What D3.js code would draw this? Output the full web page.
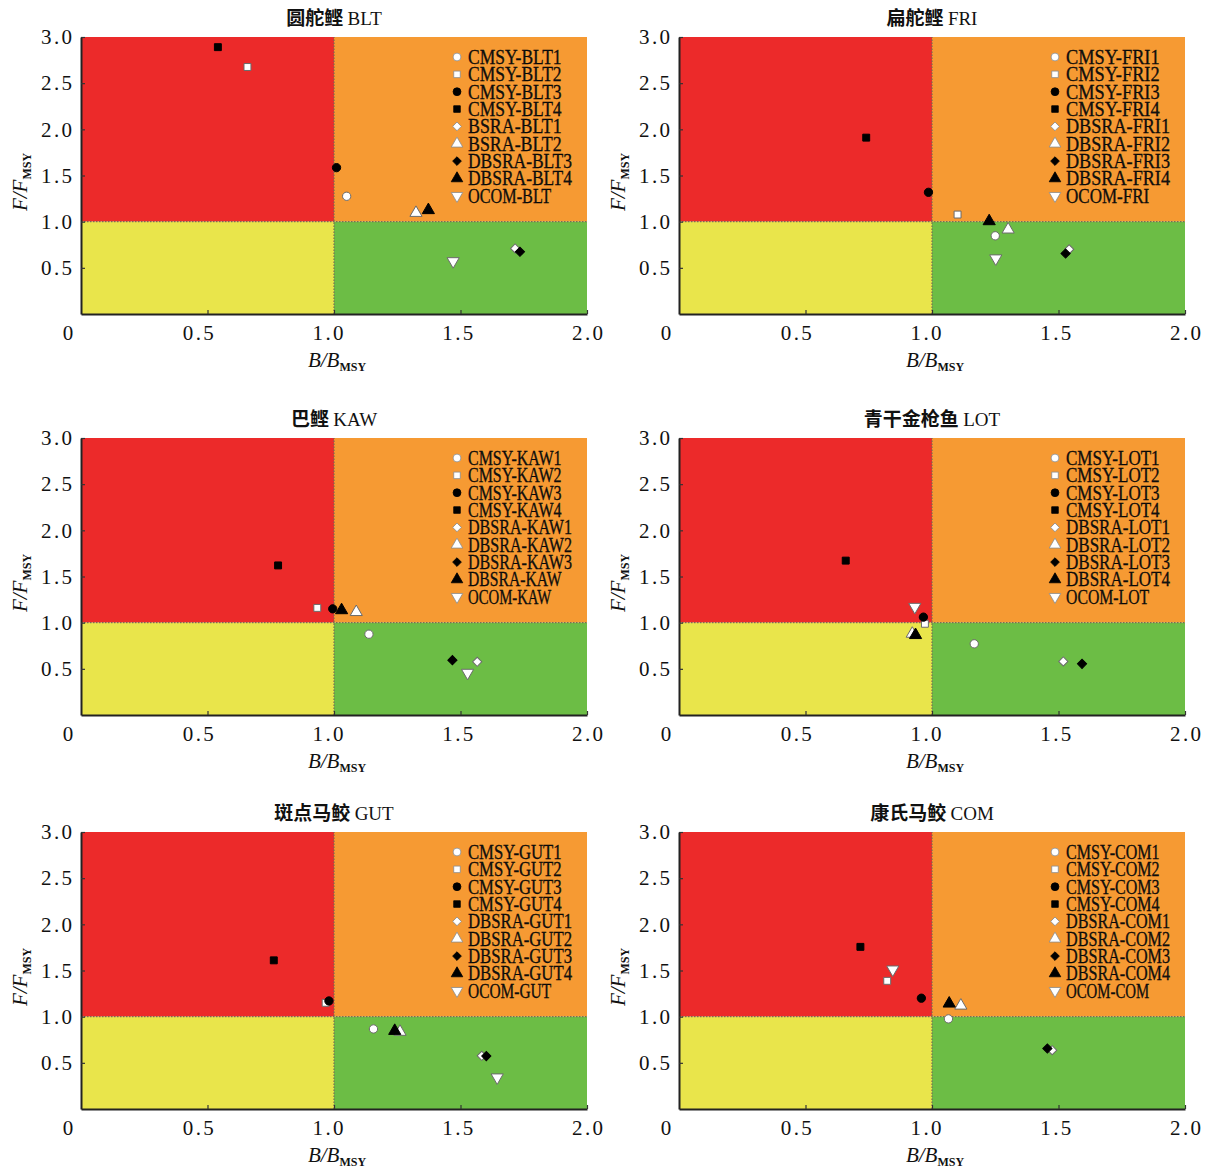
<!DOCTYPE html>
<html lang="zh">
<head>
<meta charset="UTF-8">
<title>Kobe plots</title>
<script src="https://cdn.jsdelivr.net/npm/d3@7"></script>
<style>
  body { margin: 0; background: #fff; }
  svg text { font-family: "Liberation Serif", "Noto Sans CJK SC", serif; fill: #111; }
</style>
</head>
<body>
<div id="chart"></div>
<script>
// --- data ---
const titles = ["圆舵鲣 BLT", "扁舵鲣 FRI", "巴鲣 KAW", "青干金枪鱼 LOT", "斑点马鲛 GUT", "康氏马鲛 COM"];

const bltLabels = ["CMSY-BLT1", "CMSY-BLT2", "CMSY-BLT3", "CMSY-BLT4", "BSRA-BLT1", "BSRA-BLT2", "DBSRA-BLT3", "DBSRA-BLT4", "OCOM-BLT"];
const bltB = [1.05, 0.658, 1.01, 0.541, 1.716, 1.324, 1.735, 1.373, 1.471];
const bltF = [1.275, 2.675, 1.585, 2.89, 0.71, 1.095, 0.674, 1.125, 0.572];

const friLabels = ["CMSY-FRI1", "CMSY-FRI2", "CMSY-FRI3", "CMSY-FRI4", "DBSRA-FRI1", "DBSRA-FRI2", "DBSRA-FRI3", "DBSRA-FRI4", "OCOM-FRI"];
const friB = [1.25, 1.101, 0.986, 0.74, 1.542, 1.301, 1.528, 1.226, 1.252];
const friF = [0.847, 1.077, 1.318, 1.91, 0.70, 0.915, 0.655, 1.005, 0.602];

const kawLabels = ["CMSY-KAW1", "CMSY-KAW2", "CMSY-KAW3", "CMSY-KAW4", "DBSRA-KAW1", "DBSRA-KAW2", "DBSRA-KAW3", "DBSRA-KAW", "OCOM-KAW"];
const kawB = [1.138, 0.934, 0.995, 0.779, 1.566, 1.088, 1.468, 1.03, 1.528];
const kawF = [0.875, 1.16, 1.15, 1.62, 0.576, 1.115, 0.594, 1.135, 0.457];

const lotLabels = ["CMSY-LOT1", "CMSY-LOT2", "CMSY-LOT3", "CMSY-LOT4", "DBSRA-LOT1", "DBSRA-LOT2", "DBSRA-LOT3", "DBSRA-LOT4", "OCOM-LOT"];
const lotB = [1.167, 0.972, 0.966, 0.659, 1.519, 0.922, 1.593, 0.935, 0.932];
const lotF = [0.771, 0.988, 1.06, 1.672, 0.58, 0.88, 0.554, 0.866, 1.171];

const gutLabels = ["CMSY-GUT1", "CMSY-GUT2", "CMSY-GUT3", "CMSY-GUT4", "DBSRA-GUT1", "DBSRA-GUT2", "DBSRA-GUT3", "DBSRA-GUT4", "OCOM-GUT"];
const gutB = [1.156, 0.967, 0.98, 0.762, 1.584, 1.261, 1.602, 1.24, 1.645];
const gutF = [0.867, 1.15, 1.17, 1.61, 0.576, 0.836, 0.573, 0.846, 0.342];

const comLabels = ["CMSY-COM1", "CMSY-COM2", "CMSY-COM3", "CMSY-COM4", "DBSRA-COM1", "DBSRA-COM2", "DBSRA-COM3", "DBSRA-COM4", "OCOM-COM"];
const comB = [1.065, 0.823, 0.958, 0.717, 1.475, 1.114, 1.456, 1.068, 0.845];
const comF = [0.976, 1.388, 1.2, 1.756, 0.637, 1.12, 0.655, 1.142, 1.511];

const xTicks = [0.5, 1.0, 1.5, 2.0];
const yTicks = [0.5, 1.0, 1.5, 2.0, 2.5, 3.0];

// marker order matches the legend order in every panel
const markerShapes = ["circle", "square", "circle", "square", "diamond", "triangle", "diamond", "triangle", "triangleDown"];
const markerFilled = [false, false, true, true, false, false, true, true, false];

// quadrant zones: [x0, x1, y0, y1, colour]
const zones = [
  [0, 1, 1, 3, "#ec2a2a"],
  [1, 2, 1, 3, "#f69a33"],
  [0, 1, 0, 1, "#e9e54b"],
  [1, 2, 0, 1, "#6cbd45"]
];

const panels = [
  { title: titles[0], labels: bltLabels, b: bltB, f: bltF },
  { title: titles[1], labels: friLabels, b: friB, f: friF },
  { title: titles[2], labels: kawLabels, b: kawB, f: kawF },
  { title: titles[3], labels: lotLabels, b: lotB, f: lotF },
  { title: titles[4], labels: gutLabels, b: gutB, f: gutF },
  { title: titles[5], labels: comLabels, b: comB, f: comF }
];

// --- layout ---
const W = 1208, H = 1171;
const colLeft = [81, 679];
const rowTop = [37, 438, 832];
const pw = 506, ph = 277;

const svg = d3.select("#chart").append("svg")
  .attr("width", W).attr("height", H);

function symbolPath(shape, size) {
  if (shape === "circle") return d3.symbol(d3.symbolCircle, size)();
  if (shape === "square" || shape === "diamond") return d3.symbol(d3.symbolSquare, size)();
  return d3.symbol(d3.symbolTriangle, size)();
}
function symbolRot(shape) {
  if (shape === "diamond") return 45;
  if (shape === "triangleDown") return 180;
  return 0;
}
function markerSize(shape, big) {
  const base = shape === "circle" ? 54 : shape === "square" ? 48 : shape === "diamond" ? 42 : 64;
  return big ? base : base * 0.9;
}

panels.forEach((p, i) => {
  const left = colLeft[i % 2], top = rowTop[Math.floor(i / 2)];
  const x = d3.scaleLinear().domain([0, 2]).range([left, left + pw]);
  const y = d3.scaleLinear().domain([0, 3]).range([top + ph, top]);
  const g = svg.append("g");

  // zones
  g.selectAll("rect.zone").data(zones).enter().append("rect")
    .attr("x", d => x(d[0]))
    .attr("y", d => y(d[3]))
    .attr("width", d => x(d[1]) - x(d[0]))
    .attr("height", d => y(d[2]) - y(d[3]))
    .attr("fill", d => d[4]);

  // dotted reference lines at 1.0
  g.append("line")
    .attr("x1", x(1)).attr("x2", x(1)).attr("y1", y(0)).attr("y2", y(3))
    .attr("stroke", "#7a6a55").attr("stroke-width", 1.2).attr("stroke-dasharray", "1.5,1.5");
  g.append("line")
    .attr("x1", x(0)).attr("x2", x(2)).attr("y1", y(1)).attr("y2", y(1))
    .attr("stroke", "#7a6a55").attr("stroke-width", 1.2).attr("stroke-dasharray", "1.5,1.5");

  // axes
  const yAxis = g.append("g")
    .attr("transform", `translate(${left},0)`)
    .call(d3.axisLeft(y).tickValues(yTicks).tickSize(-4).tickSizeOuter(0).tickPadding(9).tickFormat(d3.format(".1f")));
  const labelX = d3.scaleLinear().domain([0, 2]).range([x(0) - 13, x(2)]);
  const xAxis = g.append("g")
    .attr("transform", `translate(0,${top + ph})`)
    .call(d3.axisBottom(x).tickValues(xTicks).tickSize(-4).tickSizeOuter(0).tickPadding(11).tickFormat(d3.format(".1f")));
  [yAxis, xAxis].forEach(a => {
    a.select(".domain").attr("stroke", "#222").attr("stroke-width", 2);
    a.selectAll(".tick line").attr("stroke", "#333").attr("stroke-width", 1.2);
    a.selectAll(".tick text")
      .attr("font-size", 21)
      .attr("font-family", "Liberation Serif")
      .attr("fill", "#111")
      .attr("textLength", 31).attr("lengthAdjust", "spacing");
  });
  xAxis.selectAll(".tick text").attr("x", d => labelX(d) - x(d));
  // shared origin label
  g.append("text")
    .attr("x", labelX(0)).attr("y", top + ph + 26)
    .attr("text-anchor", "middle").attr("font-size", 21)
    .text("0");

  // title: Chinese name in a heavier CJK face, code in the serif face
  const parts = p.title.split(" ");
  const tt = g.append("text")
    .attr("x", x(1)).attr("y", top - 12)
    .attr("text-anchor", "middle")
    .attr("font-size", 19);
  tt.append("tspan").attr("font-family", "Noto Sans CJK SC").attr("font-weight", "bold").text(parts[0] + " ");
  tt.append("tspan").text(parts[1]);

  // axis titles
  const xt = g.append("text")
    .attr("x", x(1) + 3).attr("y", top + ph + 53)
    .attr("text-anchor", "middle").attr("font-size", 21);
  xt.append("tspan").attr("font-style", "italic").text("B/B");
  xt.append("tspan").attr("font-size", 12).attr("font-weight", "bold").attr("dy", 4).text("MSY");

  const yt = g.append("text")
    .attr("transform", `translate(${left - 54},${top + 145}) rotate(-90)`)
    .attr("text-anchor", "middle").attr("font-size", 21);
  yt.append("tspan").attr("font-style", "italic").text("F/F");
  yt.append("tspan").attr("font-size", 12).attr("font-weight", "bold").attr("dy", 4).text("MSY");

  // points
  const pts = p.labels.map((lab, k) => ({ lab, b: p.b[k], f: p.f[k], shape: markerShapes[k], filled: markerFilled[k] }));
  g.selectAll("path.pt").data(pts).enter().append("path")
    .attr("d", d => symbolPath(d.shape, markerSize(d.shape, true)))
    .attr("transform", d => `translate(${x(d.b)},${y(d.f)}) rotate(${symbolRot(d.shape)})`)
    .attr("fill", d => d.filled ? "#000" : "#fff")
    .attr("stroke", d => d.filled ? "#000" : "#6b6b6b")
    .attr("stroke-width", 1);

  // legend
  const leg = g.append("g").attr("transform", `translate(${left + 376},${top + 20})`);
  const rows = leg.selectAll("g").data(pts).enter().append("g")
    .attr("transform", (d, k) => `translate(0,${k * 17.35})`);
  rows.append("path")
    .attr("d", d => symbolPath(d.shape, markerSize(d.shape, false)))
    .attr("transform", d => `rotate(${symbolRot(d.shape)})`)
    .attr("fill", d => d.filled ? "#000" : "#fff")
    .attr("stroke", d => d.filled ? "#000" : "#8a8a8a")
    .attr("stroke-width", 0.8);
  rows.append("text")
    .attr("x", 11).attr("y", 7)
    .attr("font-size", 20)
    .attr("fill", "#000")
    .attr("stroke", "#000").attr("stroke-width", 0.3)
    .attr("textLength", d => d.lab.length * 10.4)
    .attr("lengthAdjust", "spacingAndGlyphs")
    .text(d => d.lab);
});
</script>
</body>
</html>
